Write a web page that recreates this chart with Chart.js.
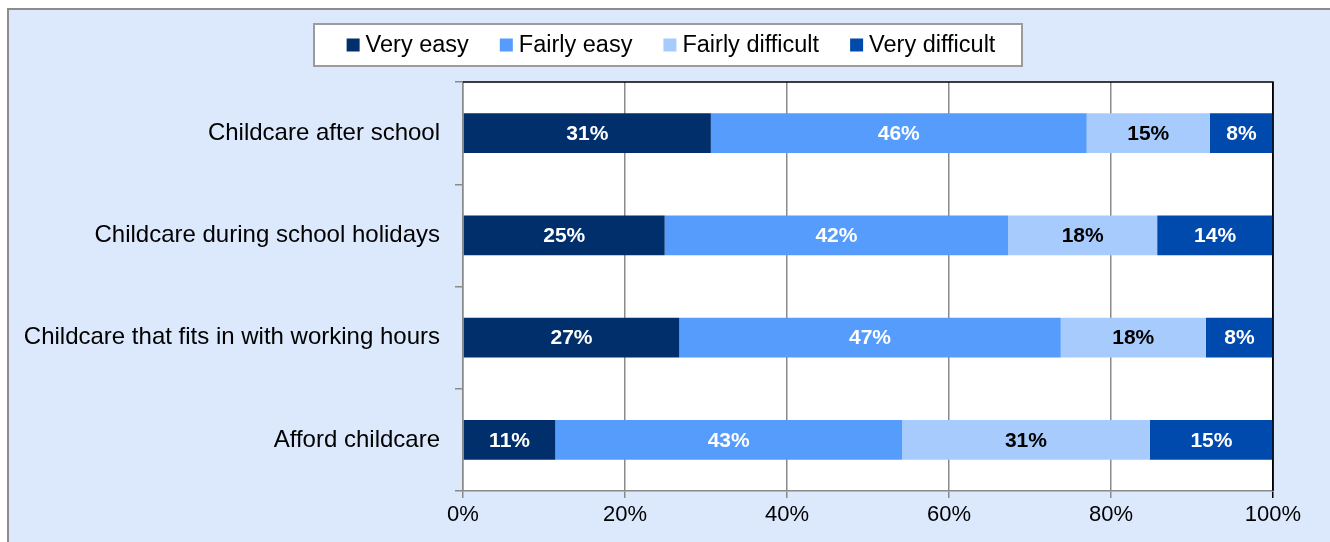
<!DOCTYPE html>
<html>
<head>
<meta charset="utf-8">
<script src="https://cdn.jsdelivr.net/npm/chart.js@4"></script>
<style>
  html, body { margin: 0; padding: 0; background: #fff; overflow: hidden; }
  canvas { display: block; }
</style>
</head>
<body>
<canvas id="chart" width="1330" height="542"></canvas>
<script>
// Data
const categories = [
    'Childcare after school',
    'Childcare during school holidays',
    'Childcare that fits in with working hours',
    'Afford childcare'
];
const seriesNames = ['Very easy', 'Fairly easy', 'Fairly difficult', 'Very difficult'];
const veryEasy = [30.6, 24.9, 26.7, 11.4];
const fairlyEasy = [46.4, 42.4, 47.1, 42.8];
const fairlyDifficult = [15.2, 18.4, 17.9, 30.6];
const veryDifficult = [7.8, 14.3, 8.3, 15.2];
const xTicks = [0, 20, 40, 60, 80, 100];

const colors = ['#002f6c', '#559cfd', '#a6cbfc', '#004aad'];
const labelColors = ['#fff', '#fff', '#000', '#fff'];
const FONT = "'Liberation Sans', Arial, sans-serif";

// ── background, plot area and legend box ───────────────────────────────
const framePlugin = {
    id: 'frame',
    beforeDraw(chart) {
        const { ctx, chartArea: a } = chart;
        ctx.save();
        ctx.fillStyle = '#dce9fd';
        ctx.fillRect(8, 8, 1330, 542);
        ctx.strokeStyle = '#8c8c8c';
        ctx.lineWidth = 2;
        ctx.strokeRect(8, 9, 1340, 560);
        ctx.fillStyle = '#ffffff';
        ctx.fillRect(a.left, a.top, a.right - a.left, a.bottom - a.top);
        ctx.restore();
    },
    afterDatasetsDraw(chart) {
        // black border on top and right of the plot
        const { ctx, chartArea: a } = chart;
        ctx.save();
        ctx.strokeStyle = '#000';
        ctx.lineWidth = 1.5;
        ctx.beginPath();
        ctx.moveTo(a.left, a.top);
        ctx.lineTo(a.right, a.top);
        ctx.lineTo(a.right, a.bottom);
        ctx.stroke();
        ctx.restore();
    },
    afterDraw(chart) {
        const { ctx } = chart;
        const box = { x: 314, y: 24, w: 708, h: 42 };
        ctx.save();
        ctx.fillStyle = '#ffffff';
        ctx.fillRect(box.x, box.y, box.w, box.h);
        ctx.strokeStyle = '#9c9c9c';
        ctx.lineWidth = 2;
        ctx.strokeRect(box.x, box.y, box.w, box.h);

        ctx.font = '23.5px ' + FONT;
        ctx.textBaseline = 'middle';
        const sq = 13, gapIn = 6, gapOut = 31;
        const items = chart.data.datasets.map(ds => ({
            text: ds.label, color: ds.backgroundColor, w: ctx.measureText(ds.label).width
        }));
        const total = items.reduce((s, it) => s + sq + gapIn + it.w, 0) + gapOut * (items.length - 1);
        let x = box.x + (box.w - total) / 2 + 3;
        const cy = box.y + box.h / 2;
        items.forEach(it => {
            ctx.fillStyle = it.color;
            ctx.fillRect(x, cy - sq / 2, sq, sq);
            x += sq + gapIn;
            ctx.fillStyle = '#000';
            ctx.fillText(it.text, x, cy + 1);
            x += it.w + gapOut;
        });
        ctx.restore();
    }
};

// ── value labels inside the bars ───────────────────────────────────────
const valueLabels = {
    id: 'valueLabels',
    afterDatasetsDraw(chart) {
        const { ctx } = chart;
        ctx.save();
        ctx.font = 'bold 21px ' + FONT;
        ctx.textAlign = 'center';
        ctx.textBaseline = 'middle';
        chart.data.datasets.forEach((ds, i) => {
            const meta = chart.getDatasetMeta(i);
            meta.data.forEach((bar, j) => {
                const v = ds.data[j];
                ctx.fillStyle = labelColors[i];
                ctx.fillText(Math.round(v) + '%', (bar.x + bar.base) / 2, bar.y + 1);
            });
        });
        ctx.restore();
    }
};

const seriesData = [veryEasy, fairlyEasy, fairlyDifficult, veryDifficult];

new Chart(document.getElementById('chart').getContext('2d'), {
    type: 'bar',
    data: {
        labels: categories,
        datasets: seriesNames.map((name, i) => ({
            label: name,
            data: seriesData[i],
            backgroundColor: colors[i],
            borderWidth: 0,
            categoryPercentage: 1,
            barPercentage: 0.39
        }))
    },
    options: {
        indexAxis: 'y',
        responsive: false,
        animation: false,
        layout: { padding: { top: 82, right: 57, left: 0, bottom: 0 } },
        plugins: {
            legend: { display: false },
            tooltip: { enabled: false }
        },
        scales: {
            x: {
                stacked: true,
                min: 0,
                max: 100,
                afterBuildTicks(scale) {
                    scale.ticks = xTicks.map(v => ({ value: v }));
                },
                afterFit(scale) { scale.height = 51; },
                ticks: {
                    color: '#000',
                    font: { family: FONT, size: 22 },
                    padding: 4,
                    callback: v => v + '%'
                },
                grid: {
                    color: ctx => (ctx.tick && ctx.tick.value === 100 ? '#000' : '#8a8a8a'),
                    lineWidth: 1.5,
                    tickLength: 7
                },
                border: { color: '#8a8a8a', width: 1.5 }
            },
            y: {
                stacked: true,
                afterFit(scale) { scale.width = 463; },
                ticks: {
                    color: '#000',
                    font: { family: FONT, size: 24 },
                    padding: 15
                },
                grid: {
                    offset: true,
                    drawOnChartArea: false,
                    color: '#8a8a8a',
                    lineWidth: 1.5,
                    tickLength: 8
                },
                border: { color: '#8a8a8a', width: 1.5 }
            }
        }
    },
    plugins: [framePlugin, valueLabels]
});
</script>
</body>
</html>
